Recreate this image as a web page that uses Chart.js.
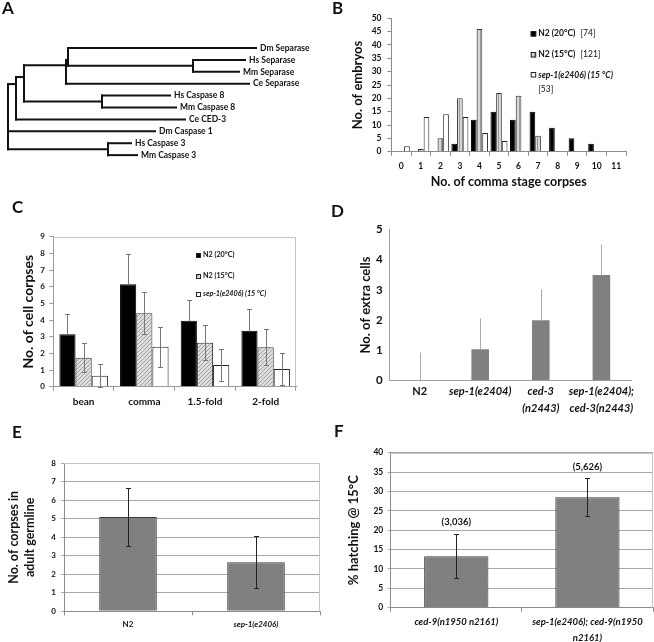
<!DOCTYPE html>
<html>
<head>
<meta charset="utf-8">
<script src="https://cdn.jsdelivr.net/npm/chart.js@4.4.1/dist/chart.umd.min.js"></script>
<style>
  body { margin: 0; background: #fff; width: 654px; height: 642px; position: relative; overflow: hidden; }
  .panel { position: absolute; }
  .letter { position: absolute; font: bold 17px Lato, sans-serif; line-height: 17px; color: #111; }
</style>
</head>
<body>
<div class="panel" style="left:0;top:0"><canvas id="treeA" width="330" height="190"></canvas></div>
<div class="panel" style="left:330px;top:0"><canvas id="histB" width="324" height="195"></canvas></div>
<div class="panel" style="left:0;top:190px"><canvas id="stagesC" width="330" height="230"></canvas></div>
<div class="panel" style="left:330px;top:190px"><canvas id="extraD" width="324" height="230"></canvas></div>
<div class="panel" style="left:0;top:420px"><canvas id="germE" width="330" height="222"></canvas></div>
<div class="panel" style="left:330px;top:420px"><canvas id="hatchF" width="324" height="222"></canvas></div>

<div class="letter" style="left:2px;top:-1px">A</div>
<div class="letter" style="left:332px;top:-1px">B</div>
<div class="letter" style="left:12px;top:198px">C</div>
<div class="letter" style="left:331px;top:202px">D</div>
<div class="letter" style="left:12px;top:423px">E</div>
<div class="letter" style="left:334px;top:422px">F</div>

<script>
// ---- A: tree ----
const treeLeaves = ['Dm Separase', 'Hs Separase', 'Mm Separase', 'Ce Separase', 'Hs Caspase 8',
  'Mm Caspase 8', 'Ce CED-3', 'Dm Caspase 1', 'Hs Caspase 3', 'Mm Caspase 3'];
const treeLeafParent = ['sub', 'sepHM', 'sepHM', 'sep', 'c8', 'c8', 'n16', 'root', 'c3', 'c3'];
const treeLeafDepth = [248, 237, 231, 241, 162, 168, 177, 147, 123, 129];
const treeLeafRow = [0, 1, 2, 3, 4, 5, 6, 7, 8, 9];
const treeNodes = ['root', 'n16', 'n24', 'sep', 'sub', 'sepHM', 'c8', 'c3'];
const treeNodeParent = [null, 'root', 'n16', 'n24', 'sep', 'sub', 'n24', 'root'];
const treeNodeDepth = [0, 8, 16, 58, 60, 185, 94, 100];
const treeNodeRow = [5, 3.03, 2.44, 1.45, 1.0, 1.5, 4.5, 8.5];

// ---- B: histogram ----
const bCorpses = ['0', '1', '2', '3', '4', '5', '6', '7', '8', '9', '10', '11'];
const bN2at20 = [0, 0, 0, 3, 12, 15, 12, 15, 9, 5, 3, 0];
const bN2at15 = [0, 1, 5, 20, 46, 22, 21, 6, 0, 0, 0, 0];
const bSep1 = [2, 13, 14, 13, 7, 4, 0, 0, 0, 0, 0, 0];
const bCounts = ['[74]', '[121]', '[53]'];

// ---- C: corpses by stage ----
const cStages = ['bean', 'comma', '1.5-fold', '2-fold'];
const cN2at20 = [3.14, 6.14, 3.96, 3.36];
const cN2at20Sd = [1.22, 1.8, 1.24, 1.3];
const cN2at15 = [1.74, 4.4, 2.64, 2.36];
const cN2at15Sd = [0.86, 1.26, 1.06, 1.08];
const cSep1 = [0.66, 2.4, 1.3, 1.06];
const cSep1Sd = [0.68, 1.2, 0.94, 0.94];

// ---- D: extra cells ----
const dStrains = [['N2'], ['sep-1(e2404)'], ['ced-3', '(n2443)'], ['sep-1(e2404);', 'ced-3(n2443)']];
const dExtra = [0, 1.04, 2.0, 3.49];
const dExtraSd = [0.94, 1.04, 1.03, 1.03];

// ---- E: germline corpses ----
const eStrains = ['N2', 'sep-1(e2406)'];
const eCorpses = [5.1, 2.65];
const eCorpsesSd = [1.58, 1.4];

// ---- F: hatching ----
const fStrains = [['ced-9(n1950 n2161)'], ['sep-1(e2406); ced-9(n1950', 'n2161)']];
const fHatch = [13.3, 28.5];
const fHatchSd = [5.75, 4.85];
const fCounts = ['(3,036)', '(5,626)'];

const ink = '#111';
const fnt = (size, extra) => Object.assign({ family: 'Lato', size: size, weight: 'bold' }, extra);

function pattern(w, h, paint) {
  const c = document.createElement('canvas');
  c.width = w; c.height = h;
  const g = c.getContext('2d');
  paint(g);
  return g.createPattern(c, 'repeat');
}
const vStripes = pattern(3, 3, g => {
  g.fillStyle = '#d6d6d6'; g.fillRect(0, 0, 3, 3);
  g.fillStyle = '#9a9a9a'; g.fillRect(0, 0, 1, 3);
});
const diagHatch = pattern(4, 4, g => {
  g.fillStyle = '#dedede'; g.fillRect(0, 0, 4, 4);
  g.fillStyle = '#a0a0a0';
  for (let i = 0; i < 4; i++) g.fillRect(i, 3 - i, 1, 1);
});

// plugins
const leafLabels = {
  id: 'leafLabels',
  afterDatasetsDraw(chart) {
    const { ctx, scales: { x, y } } = chart;
    ctx.save();
    ctx.font = 'bold 8.5px Lato';
    ctx.fillStyle = ink;
    ctx.textBaseline = 'middle';
    treeLeaves.forEach((name, i) => {
      ctx.fillText(name, x.getPixelForValue(treeLeafDepth[i]) + 4, y.getPixelForValue(treeLeafRow[i]));
    });
    ctx.restore();
  }
};

const plotFrame = {
  id: 'plotFrame',
  beforeDatasetsDraw(chart, args, o) {
    if (!o.show) return;
    const { ctx, chartArea: a } = chart;
    const t = Math.round(a.top) + 0.5, r = Math.round(a.right) - 0.5;
    ctx.save();
    ctx.strokeStyle = '#c4c4c4';
    ctx.lineWidth = 1;
    ctx.beginPath();
    ctx.moveTo(a.left, t); ctx.lineTo(r, t); ctx.lineTo(r, a.bottom);
    ctx.stroke();
    ctx.restore();
  }
};

const errorBars = {
  id: 'errorBars',
  afterDatasetsDraw(chart) {
    const { ctx } = chart, y = chart.scales.y;
    chart.data.datasets.forEach((ds, i) => {
      if (!ds.errors) return;
      chart.getDatasetMeta(i).data.forEach((bar, j) => {
        const v = ds.data[j], e = ds.errors[j];
        const x = Math.round(bar.x) + 0.5;
        const t = Math.round(y.getPixelForValue(v + e)) + 0.5;
        const b = Math.round(y.getPixelForValue(ds.errUp ? v : v - e)) + 0.5;
        ctx.save();
        ctx.strokeStyle = ds.errColor;
        ctx.lineWidth = 1;
        ctx.beginPath();
        ctx.moveTo(x, t); ctx.lineTo(x, b);
        if (ds.errCap) {
          ctx.moveTo(x - ds.errCap, t); ctx.lineTo(x + ds.errCap, t);
          if (!ds.errUp) { ctx.moveTo(x - ds.errCap, b); ctx.lineTo(x + ds.errCap, b); }
        }
        ctx.stroke();
        ctx.restore();
      });
    });
  }
};

const boxLegend = {
  id: 'boxLegend',
  afterDatasetsDraw(chart, args, o) {
    if (!o.rows) return;
    const ctx = chart.ctx;
    ctx.save();
    ctx.textBaseline = 'middle';
    chart.data.datasets.forEach((ds, i) => {
      const y = o.rows[i];
      ctx.fillStyle = ds.backgroundColor;
      ctx.fillRect(o.x, Math.round(y - o.box / 2), o.box, o.box);
      ctx.strokeStyle = '#222';
      ctx.lineWidth = 1;
      ctx.strokeRect(o.x + 0.5, Math.round(y - o.box / 2) + 0.5, o.box - 1, o.box - 1);
      ctx.fillStyle = ink;
      ctx.font = (o.italic[i] ? 'italic ' : '') + 'bold ' + o.size + 'px Lato';
      const tx = o.x + o.box + 2;
      ctx.fillText(ds.label, tx, y);
      if (o.counts) {
        const w = ctx.measureText(ds.label).width;
        ctx.font = o.size + 'px Lato';
        if (o.wrap[i]) ctx.fillText(o.counts[i], tx, o.wrapY);
        else ctx.fillText(o.counts[i], tx + w + 5, y);
      }
    });
    ctx.restore();
  }
};

const barNotes = {
  id: 'barNotes',
  afterDatasetsDraw(chart) {
    const { ctx } = chart, y = chart.scales.y;
    chart.data.datasets.forEach((ds, i) => {
      if (!ds.notes) return;
      ctx.save();
      ctx.font = 'bold 9.5px Lato';
      ctx.fillStyle = ink;
      ctx.textAlign = 'center';
      ctx.textBaseline = 'middle';
      chart.getDatasetMeta(i).data.forEach((bar, j) => {
        ctx.fillText(ds.notes[j], bar.x, y.getPixelForValue(ds.data[j] + ds.errors[j]) - 12);
      });
      ctx.restore();
    });
  }
};

// tree: horizontal + vertical segments from node table
const depthOf = {};
treeNodes.forEach((n, i) => { depthOf[n] = treeNodeDepth[i]; });
const segments = [];
treeLeaves.forEach((n, i) => {
  segments.push([{ x: depthOf[treeLeafParent[i]], y: treeLeafRow[i] }, { x: treeLeafDepth[i], y: treeLeafRow[i] }]);
});
treeNodes.forEach((n, i) => {
  const p = treeNodeParent[i];
  if (p) segments.push([{ x: depthOf[p], y: treeNodeRow[i] }, { x: treeNodeDepth[i], y: treeNodeRow[i] }]);
  const rows = [];
  treeLeaves.forEach((l, k) => { if (treeLeafParent[k] === n) rows.push(treeLeafRow[k]); });
  treeNodes.forEach((m, k) => { if (treeNodeParent[k] === n) rows.push(treeNodeRow[k]); });
  segments.push([{ x: treeNodeDepth[i], y: Math.min(...rows) }, { x: treeNodeDepth[i], y: Math.max(...rows) }]);
});

new Chart(document.getElementById('treeA'), {
  type: 'scatter',
  data: {
    datasets: segments.map(s => ({
      data: s, showLine: true, pointRadius: 0, borderColor: '#111', borderWidth: 2, borderCapStyle: 'square'
    }))
  },
  options: {
    responsive: false, animation: false, events: [],
    layout: { padding: 0 },
    plugins: { legend: { display: false }, tooltip: { enabled: false } },
    scales: {
      x: { type: 'linear', display: false, min: -8, max: 322 },
      y: { type: 'linear', display: false, min: -4.034, max: 11.93, reverse: true }
    }
  },
  plugins: [leafLabels]
});

function barPanel(id, o) {
  return new Chart(document.getElementById(id), {
    type: 'bar',
    data: { labels: o.labels, datasets: o.datasets },
    options: {
      responsive: false, animation: false, events: [],
      layout: { padding: { top: o.top, right: o.right, left: 0, bottom: 0 } },
      datasets: { bar: { categoryPercentage: o.catPct, barPercentage: 1 } },
      plugins: {
        legend: { display: false }, tooltip: { enabled: false },
        boxLegend: o.legend || {}, plotFrame: { show: !!o.frame }
      },
      scales: {
        x: {
          grid: { display: true, drawOnChartArea: false, drawTicks: o.xTick > 0, tickLength: o.xTick, color: o.axis },
          border: { color: o.axis },
          ticks: { font: o.xFont, color: ink, padding: o.xPad, maxRotation: 0, minRotation: 0, autoSkip: false },
          title: o.xTitle
            ? { display: true, text: o.xTitle, font: o.xTitleFont, color: ink, padding: { top: 0, bottom: o.xTitlePad } }
            : { display: false },
          afterFit: s => { s.height = o.axisH; }
        },
        y: {
          min: 0, max: o.yMax,
          grid: { display: true, drawOnChartArea: !!o.grid, drawTicks: o.yTick > 0, tickLength: o.yTick, color: o.grid || o.axis },
          border: { color: o.axis },
          ticks: { stepSize: o.step, font: o.yFont, color: ink, padding: o.yPad },
          title: { display: true, text: o.yTitle, font: o.yTitleFont, color: ink, padding: { top: o.yTitlePad, bottom: 0 } },
          afterFit: s => { s.width = o.axisW; }
        }
      }
    },
    plugins: [plotFrame, errorBars, boxLegend, barNotes]
  });
}

// B
barPanel('histB', {
  labels: bCorpses,
  datasets: [
    { label: 'N2 (20°C)', data: bN2at20, backgroundColor: '#000', borderColor: '#000', borderWidth: 1 },
    { label: 'N2 (15°C)', data: bN2at15, backgroundColor: vStripes, borderColor: '#333', borderWidth: 1 },
    { label: 'sep-1(e2406) (15 °C)', data: bSep1, backgroundColor: '#fff', borderColor: '#222', borderWidth: 1 }
  ],
  top: 18.3, right: 28, axisW: 61.5, axisH: 43.3, catPct: 0.87,
  yMax: 50, step: 5, yFont: fnt(8.5), yTick: 4, yPad: 6,
  yTitle: 'No. of embryos', yTitleFont: fnt(13), yTitlePad: 20.5,
  xFont: fnt(8.5), xTick: 4, xPad: 5,
  xTitle: 'No. of comma stage corpses', xTitleFont: fnt(12.5), xTitlePad: 5.5,
  axis: '#8a8a8a',
  legend: { x: 200.7, rows: [33.3, 54.3, 75], box: 5.5, size: 8.5, italic: [false, false, true],
    counts: bCounts, wrap: [false, false, true], wrapY: 89 }
});

// C
barPanel('stagesC', {
  labels: cStages,
  datasets: [
    { label: 'N2 (20°C)', data: cN2at20, backgroundColor: '#000', borderColor: '#000', borderWidth: 1,
      errors: cN2at20Sd, errUp: true, errColor: '#777', errCap: 2.5 },
    { label: 'N2 (15°C)', data: cN2at15, backgroundColor: diagHatch, borderColor: '#333', borderWidth: 1,
      errors: cN2at15Sd, errColor: '#777', errCap: 2.5 },
    { label: 'sep-1(e2406) (15 °C)', data: cSep1, backgroundColor: '#fff', borderColor: '#222', borderWidth: 1,
      errors: cSep1Sd, errColor: '#777', errCap: 2.5 }
  ],
  top: 46.7, right: 34, axisW: 53.3, axisH: 33.3, catPct: 0.8, frame: true,
  yMax: 9, step: 1, yFont: fnt(8), yTick: 4, yPad: 4.3,
  yTitle: 'No. of cell corpses', yTitleFont: fnt(14), yTitlePad: 19.9,
  xFont: fnt(10), xTick: 4, xPad: 5,
  axis: '#999',
  legend: { x: 196, rows: [65, 86, 104], box: 5, size: 7.2, italic: [false, false, true] }
});

// D
barPanel('extraD', {
  labels: dStrains,
  datasets: [
    { label: 'extra cells', data: dExtra, backgroundColor: '#808080', borderWidth: 0,
      errors: dExtraSd, errUp: true, errColor: '#aaa', errCap: 0 }
  ],
  top: 39.3, right: 22.3, axisW: 59.3, axisH: 39.3, catPct: 0.29,
  yMax: 5, step: 1, yFont: fnt(11.5), yTick: 0, yPad: 6.6,
  yTitle: 'No. of extra cells', yTitleFont: fnt(13), yTitlePad: 28.2,
  xFont: c => fnt(11, { lineHeight: 1.51, style: c.index === 0 ? 'normal' : 'italic' }), xTick: 0, xPad: 2.7,
  axis: '#a0a0a0'
});

// E
barPanel('germE', {
  labels: eStrains,
  datasets: [
    { label: 'corpses', data: eCorpses, backgroundColor: '#808080', borderColor: '#3a3a3a', borderWidth: 1,
      errors: eCorpsesSd, errColor: '#222', errCap: 2.5 }
  ],
  top: 43.3, right: 10, axisW: 64, axisH: 30.7, catPct: 0.45, frame: true, grid: '#a8a8a8',
  yMax: 8, step: 1, yFont: fnt(8), yTick: 3, yPad: 5,
  yTitle: ['No. of corpses in', 'adult germline'], yTitleFont: fnt(12.5, { lineHeight: 1.28 }), yTitlePad: 6,
  xFont: c => fnt(8, { style: c.index === 1 ? 'italic' : 'normal' }), xTick: 4, xPad: 3.9,
  axis: '#8c8c8c'
});

// F
barPanel('hatchF', {
  labels: fStrains,
  datasets: [
    { label: 'hatching', data: fHatch, backgroundColor: '#808080', borderColor: '#3a3a3a', borderWidth: 1,
      errors: fHatchSd, errColor: '#222', errCap: 2.5, notes: fCounts }
  ],
  top: 32.7, right: 1, axisW: 60.7, axisH: 34.3, catPct: 0.49, frame: true, grid: '#a8a8a8',
  yMax: 40, step: 5, yFont: fnt(8.5), yTick: 3, yPad: 4.4,
  yTitle: '% hatching @ 15°C', yTitleFont: fnt(13), yTitlePad: 16.2,
  xFont: fnt(9.5, { style: 'italic', lineHeight: 1.75 }), xTick: 4, xPad: 1.7,
  axis: '#8c8c8c'
});
</script>
</body>
</html>
